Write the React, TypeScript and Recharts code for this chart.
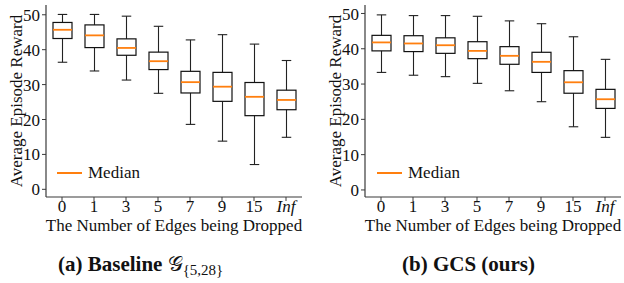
import { ComposedChart, Bar, XAxis, YAxis } from "recharts";

const categories = ["0", "1", "3", "5", "7", "9", "15", "Inf"];
const yTicks = [0, 10, 20, 30, 40, 50];

// (a) Baseline
const baseMax = [50.1, 50.1, 49.6, 46.7, 42.8, 44.3, 41.6, 36.9];
const baseQ3 = [47.8, 47.1, 43.1, 39.3, 33.8, 33.5, 30.6, 28.4];
const baseMed = [45.7, 44.1, 40.5, 36.7, 30.7, 29.4, 26.5, 25.6];
const baseQ1 = [43.2, 40.6, 38.4, 34.3, 27.6, 25.2, 21.1, 22.8];
const baseMin = [36.4, 33.9, 31.3, 27.5, 18.6, 13.8, 7.1, 14.9];

// (b) GCS
const gcsMax = [49.6, 49.4, 49.4, 49.2, 47.9, 47.1, 43.4, 37.0];
const gcsQ3 = [43.8, 43.7, 43.1, 42.0, 40.6, 39.0, 33.8, 28.5];
const gcsMed = [41.8, 41.5, 41.0, 39.4, 38.0, 36.3, 30.5, 25.7];
const gcsQ1 = [39.4, 39.2, 38.7, 37.2, 35.6, 33.3, 27.4, 23.1];
const gcsMin = [33.3, 32.5, 32.1, 30.2, 28.1, 25.0, 17.9, 14.9];

const buildRows = (min: number[], q1: number[], med: number[], q3: number[], max: number[]) =>
  categories.map((name, i) => ({
    name,
    min: min[i],
    q1: q1[i],
    med: med[i],
    q3: q3[i],
    max: max[i],
    range: [min[i], max[i]],
  }));

const baseRows = buildRows(baseMin, baseQ1, baseMed, baseQ3, baseMax);
const gcsRows = buildRows(gcsMin, gcsQ1, gcsMed, gcsQ3, gcsMax);

const FONT = "'Liberation Serif', 'DejaVu Serif', serif";
const ORANGE = "#ff7f0e";
const FRAME = "#3a3a3a";

const BoxShape = (props: any) => {
  const { x, y, width, height, payload } = props;
  const top = Math.min(y, y + height);
  const bot = Math.max(y, y + height);
  const span = payload.max - payload.min;
  const py = (v: number) => bot - ((v - payload.min) / span) * (bot - top);
  const cx = x + width / 2;
  const cap = width / 4;
  return (
    <g>
      <line x1={cx} x2={cx} y1={py(payload.max)} y2={py(payload.q3)} stroke="#222" strokeWidth={1.1} />
      <line x1={cx} x2={cx} y1={py(payload.q1)} y2={py(payload.min)} stroke="#222" strokeWidth={1.1} />
      <line x1={cx - cap} x2={cx + cap} y1={py(payload.max)} y2={py(payload.max)} stroke="#222" strokeWidth={1.1} />
      <line x1={cx - cap} x2={cx + cap} y1={py(payload.min)} y2={py(payload.min)} stroke="#222" strokeWidth={1.1} />
      <rect x={x} y={py(payload.q3)} width={width} height={py(payload.q1) - py(payload.q3)} fill="none" stroke="#111" strokeWidth={1.2} />
      <line x1={x} x2={x + width} y1={py(payload.med)} y2={py(payload.med)} stroke={ORANGE} strokeWidth={1.8} />
    </g>
  );
};

const XTick = (props: any) => {
  const { x, y, payload } = props;
  return (
    <text x={x} y={y} dy="0.65em" textAnchor="middle" fontSize={17} fontFamily={FONT} fill="#111"
      fontStyle={payload.value === "Inf" ? "italic" : "normal"}>
      {payload.value}
    </text>
  );
};

const BoxChart = ({ rows, domain }: { rows: any[]; domain: [number, number] }) => (
  <ComposedChart width={312} height={245} data={rows} margin={{ top: 5, right: 10, bottom: 0, left: 0 }}>
    <XAxis dataKey="name" xAxisId="top" orientation="top" height={0} tick={false} tickLine={false}
      axisLine={{ stroke: FRAME, strokeWidth: 1.2 }} />
    <XAxis dataKey="name" height={48} tickSize={4} tickMargin={0} tick={<XTick />}
      tickLine={{ stroke: FRAME }} axisLine={{ stroke: FRAME, strokeWidth: 1.2 }}
      label={{
        content: ({ viewBox }: any) => (
          <text x={viewBox.x + viewBox.width / 2} y={viewBox.y + 34} textAnchor="middle" fontSize={17}
            fontFamily={FONT} fill="#111">
            The Number of Edges being Dropped
          </text>
        ),
      }} />
    <YAxis yAxisId="right" orientation="right" width={0} domain={domain} allowDataOverflow tick={false}
      tickLine={false} axisLine={{ stroke: FRAME, strokeWidth: 1.2 }} />
    <YAxis width={46} domain={domain} ticks={yTicks} allowDataOverflow tickSize={4} tickMargin={2}
      tick={{ fontSize: 17, fontFamily: FONT, fill: "#111" }} tickLine={{ stroke: FRAME }}
      axisLine={{ stroke: FRAME, strokeWidth: 1.2 }}
      label={{
        content: ({ viewBox }: any) => {
          const cy = viewBox.y + viewBox.height / 2;
          return (
            <text x={16} y={cy} transform={`rotate(-90 16 ${cy})`} textAnchor="middle" dominantBaseline="central"
              fontSize={17} fontFamily={FONT} fill="#111">
              Average Episode Reward
            </text>
          );
        },
      }} />
    <Bar dataKey="range" barSize={19} shape={<BoxShape />} isAnimationActive={false} />
  </ComposedChart>
);

const MedianLegend = ({ left }: { left: number }) => (
  <div style={{ position: "absolute", left, top: 163, display: "flex", alignItems: "center", fontFamily: FONT, fontSize: 17, color: "#111" }}>
    <div style={{ width: 25, height: 2, background: ORANGE, marginRight: 6 }} />
    <span>Median</span>
  </div>
);

const captionStyle: React.CSSProperties = {
  position: "absolute",
  top: 252,
  fontFamily: FONT,
  fontWeight: "bold",
  fontSize: 21,
  color: "#111",
  whiteSpace: "nowrap",
};

export default function App() {
  return (
    <div style={{ position: "absolute", left: 0, top: 0, width: 624, height: 283, background: "#fff", overflow: "hidden" }}>
      <div style={{ position: "absolute", left: 0, top: 0 }}>
        <BoxChart rows={baseRows} domain={[-2.2, 52.8]} />
      </div>
      <div style={{ position: "absolute", left: 319, top: 0 }}>
        <BoxChart rows={gcsRows} domain={[-2.0, 52.4]} />
      </div>
      <MedianLegend left={57} />
      <MedianLegend left={377} />
      <div style={{ ...captionStyle, left: 58 }}>
        (a) Baseline <span style={{ fontWeight: "normal" }}>𝒢</span>
        <sub style={{ fontSize: 15, fontWeight: "normal", verticalAlign: -4 }}>{"{5,28}"}</sub>
      </div>
      <div style={{ ...captionStyle, left: 402 }}>(b) GCS (ours)</div>
    </div>
  );
}
